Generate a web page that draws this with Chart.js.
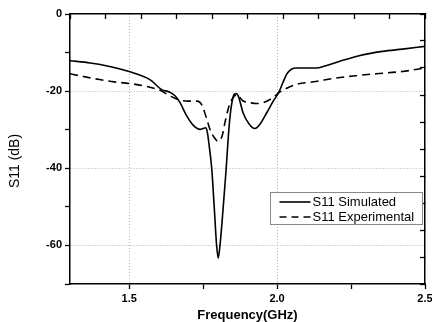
<!DOCTYPE html>
<html><head><meta charset="utf-8">
<script src="https://cdn.jsdelivr.net/npm/chart.js@4/dist/chart.umd.min.js"></script>
<style>html,body{margin:0;padding:0;background:#fff}</style>
</head><body>
<canvas id="c" width="432" height="322"></canvas>
<script>
// ---- data ----
const freqSim = [1.300,1.368,1.422,1.500,1.570,1.610,1.635,1.655,1.672,1.695,1.716,1.740,1.752,1.760,1.765,1.771,1.779,1.7875,1.7956,1.801,1.807,1.818,1.828,1.835,1.841,1.852,1.861,1.869,1.885,1.906,1.925,1.942,1.965,1.987,2.007,2.019,2.035,2.064,2.097,2.131,2.165,2.210,2.277,2.356,2.424,2.500];
const s11Sim  = [-12.1,-12.7,-13.4,-14.9,-17.0,-19.6,-20.2,-21.2,-23.0,-26.5,-28.8,-29.9,-29.6,-29.5,-31.0,-34.5,-40.0,-50.0,-60.0,-63.3,-60.0,-50.0,-40.0,-32.0,-26.5,-21.3,-20.6,-21.3,-25.6,-28.6,-29.7,-28.6,-25.6,-22.6,-20.1,-17.9,-15.3,-14.0,-14.0,-14.0,-13.4,-12.3,-10.8,-9.7,-9.1,-8.4];
const freqExp = [1.300,1.345,1.400,1.450,1.500,1.560,1.605,1.640,1.670,1.700,1.730,1.745,1.763,1.773,1.790,1.800,1.814,1.824,1.834,1.847,1.864,1.884,1.908,1.932,1.952,1.986,2.006,2.064,2.131,2.199,2.266,2.334,2.424,2.500];
const s11Exp  = [-15.5,-16.2,-17.0,-17.6,-18.0,-18.8,-19.8,-21.3,-22.3,-22.6,-22.6,-23.5,-27.4,-29.9,-32.3,-33.0,-31.7,-28.1,-24.8,-22.2,-20.9,-22.5,-23.0,-23.2,-23.0,-21.7,-20.4,-18.3,-17.5,-16.6,-16.0,-15.5,-14.9,-14.0];
const seriesNames = ['S11 Simulated','S11 Experimental'];
const xTicks = [1.5,1.75,2.0,2.25,2.5];
const xLabelTicks = [1.5,2.0,2.5];
const yTicks = [0,-10,-20,-30,-40,-50,-60,-70];
const yLabelTicks = [0,-20,-40,-60];
const topTicks = [0,1,2,3,4,5,6,7,8,9,10];
const rightTicks = [0,1,2,3,4,5,6,7,8,9,10];
const xTitle = 'Frequency(GHz)';
const yTitle = 'S11 (dB)';

const FONT = '"Liberation Sans", Arial, sans-serif';
const pts = (xs, ys) => xs.map((x, i) => ({x, y: ys[i]}));
const setTicks = arr => s => { s.ticks = arr.map(v => ({value: v})); };

const legendPlugin = {
  id: 'boxLegend',
  afterDraw(chart) {
    const ctx = chart.ctx, a = chart.chartArea;
    // y axis title (placed slightly below the axis centre, as in the reference)
    ctx.save();
    ctx.translate(a.left - 55, (a.top + a.bottom) / 2 + 12);
    ctx.rotate(-Math.PI / 2);
    ctx.fillStyle = '#000';
    ctx.font = '14px ' + FONT;
    ctx.textAlign = 'center';
    ctx.textBaseline = 'middle';
    ctx.fillText(yTitle, 0, 0);
    ctx.restore();

    const bx = a.right - 154.5, by = a.top + 178.5, bw = 152, bh = 32;
    ctx.save();
    ctx.fillStyle = '#fff';
    ctx.fillRect(bx, by, bw, bh);
    ctx.strokeStyle = '#8a8a8a';
    ctx.lineWidth = 1;
    ctx.strokeRect(bx, by, bw, bh);
    chart.data.datasets.forEach((ds, i) => {
      const y = by + 9.5 + i * 15;
      ctx.strokeStyle = ds.borderColor;
      ctx.lineWidth = 1.6;
      ctx.setLineDash(i === 0 ? [] : [7, 5]);
      ctx.beginPath();
      ctx.moveTo(bx + 9, y);
      ctx.lineTo(bx + 40, y);
      ctx.stroke();
      ctx.setLineDash([]);
      ctx.fillStyle = '#000';
      ctx.font = '13px ' + FONT;
      ctx.textBaseline = 'middle';
      ctx.textAlign = 'left';
      ctx.fillText(ds.label, bx + 42, y);
    });
    ctx.restore();
  }
};

new Chart(document.getElementById('c'), {
  type: 'line',
  data: {
    datasets: [
      {label: seriesNames[0], data: pts(freqSim, s11Sim), borderColor: '#000', borderWidth: 1.6,
       pointRadius: 0, fill: false, cubicInterpolationMode: 'monotone', xAxisID: 'x', yAxisID: 'y'},
      {label: seriesNames[1], data: pts(freqExp, s11Exp), borderColor: '#000', borderWidth: 1.6,
       borderDash: [8, 5], pointRadius: 0, fill: false, cubicInterpolationMode: 'monotone', xAxisID: 'x', yAxisID: 'y'}
    ]
  },
  options: {
    responsive: false,
    animation: false,
    devicePixelRatio: 1,
    layout: {padding: {top: 14, right: 7, left: 0, bottom: 0}},
    plugins: {legend: {display: false}, tooltip: {enabled: false}},
    scales: {
      x: {
        type: 'linear', position: 'bottom', min: 1.3, max: 2.5,
        afterBuildTicks: setTicks(xTicks),
        afterFit: s => { s.height = 38; s.paddingLeft = 0; s.paddingRight = 0; },
        ticks: {
          autoSkip: false, maxRotation: 0, padding: 3, color: '#000',
          font: {family: FONT, size: 11, weight: 'bold'},
          callback: v => xLabelTicks.includes(v) ? v.toFixed(1) : ''
        },
        grid: {
          color: c => (c.tick && xLabelTicks.includes(c.tick.value) && c.tick.value !== 2.5) ? '#b0b0b0' : 'rgba(0,0,0,0)',
          lineWidth: 1, tickColor: '#000', tickLength: 5, tickWidth: 1.3
        },
        border: {color: '#000', width: 1.5, dash: [1, 2]},
        title: {display: true, text: xTitle, color: '#000', font: {family: FONT, size: 13, weight: 'bold'}, padding: {top: 0, bottom: -1}}
      },
      y: {
        type: 'linear', position: 'left', min: -70, max: 0,
        afterBuildTicks: setTicks(yTicks),
        afterFit: s => { s.width = 70; s.paddingTop = 0; s.paddingBottom = 0; },
        ticks: {
          autoSkip: false, padding: 3, color: '#000',
          font: {family: FONT, size: 11, weight: 'bold'},
          callback: v => yLabelTicks.includes(v) ? String(v) : ''
        },
        grid: {
          color: c => (c.tick && yLabelTicks.includes(c.tick.value) && c.tick.value !== 0) ? '#b0b0b0' : 'rgba(0,0,0,0)',
          lineWidth: 1, tickColor: '#000', tickLength: 5, tickWidth: 1.3
        },
        border: {color: '#000', width: 1.5, dash: [1, 2]},
        title: {display: false, text: yTitle}
      },
      x2: {
        type: 'linear', position: 'top', min: 0, max: 10,
        afterBuildTicks: setTicks(topTicks),
        afterFit: s => { s.height = 0; s.paddingLeft = 0; s.paddingRight = 0; },
        ticks: {display: false},
        grid: {drawOnChartArea: false, tickColor: '#000', tickLength: -5, tickWidth: 1.3},
        border: {color: '#000', width: 1.5}
      },
      y2: {
        type: 'linear', position: 'right', min: 0, max: 10,
        afterBuildTicks: setTicks(rightTicks),
        afterFit: s => { s.width = 0; s.paddingTop = 0; s.paddingBottom = 0; },
        ticks: {display: false},
        grid: {drawOnChartArea: false, tickColor: '#000', tickLength: -5, tickWidth: 1.3},
        border: {color: '#000', width: 1.5}
      }
    }
  },
  plugins: [legendPlugin]
});
</script>
</body></html>
